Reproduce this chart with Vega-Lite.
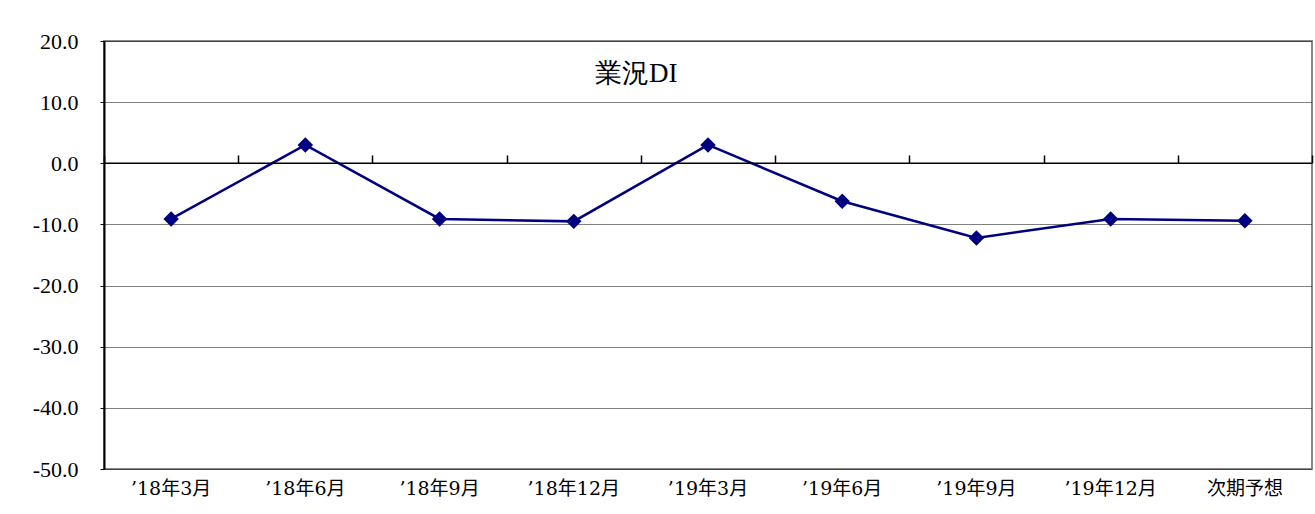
{
  "$schema": "https://vega.github.io/schema/vega-lite/v6.json",
  "width": 1208,
  "height": 428,
  "autosize": {"type": "none"},
  "padding": {"left": 104, "top": 41, "right": 3, "bottom": 45},
  "background": "white",
  "title": {
    "text": "業況DI",
    "orient": "top",
    "anchor": "start",
    "frame": "group",
    "dx": 491,
    "offset": -58,
    "font": "Liberation Serif",
    "fontSize": 27,
    "fontWeight": "normal",
    "color": "#000000"
  },
  "data": {
    "values": [
      {"period": "’18年3月", "di": -9.1},
      {"period": "’18年6月", "di": 3.0},
      {"period": "’18年9月", "di": -9.1},
      {"period": "’18年12月", "di": -9.5},
      {"period": "’19年3月", "di": 3.0},
      {"period": "’19年6月", "di": -6.2},
      {"period": "’19年9月", "di": -12.2},
      {"period": "’19年12月", "di": -9.1},
      {"period": "次期予想", "di": -9.4}
    ]
  },
  "layer": [
    {
      "mark": {"type": "line", "color": "#000080", "strokeWidth": 2.5},
      "encoding": {
        "x": {
          "field": "period",
          "type": "nominal",
          "sort": null,
          "scale": {"type": "band", "paddingInner": 0, "paddingOuter": 0},
          "axis": {
            "title": null,
            "orient": "bottom",
            "labelAngle": 0,
            "labelFont": "DejaVu Serif, Noto Sans CJK JP",
            "labelFontSize": 19,
            "labelColor": "#000000",
            "labelPadding": 10,
            "ticks": false,
            "domain": false,
            "grid": false
          }
        },
        "y": {
          "field": "di",
          "type": "quantitative",
          "scale": {"domain": [-50, 20], "nice": false, "zero": false},
          "axis": {
            "title": null,
            "values": [-50, -40, -30, -20, -10, 0, 10, 20],
            "labelExpr": "replace(format(datum.value, '.1f'), '\u2212', '-')",
            "labelFont": "serif",
            "labelFontSize": 22,
            "labelColor": "#000000",
            "labelPadding": 22,
            "tickSize": 4,
            "tickColor": "#000000",
            "domainColor": "#000000",
            "domainWidth": 2,
            "grid": true,
            "gridColor": "#000000",
            "gridDash": [1, 1],
            "gridWidth": 1
          }
        }
      }
    },
    {
      "mark": {"type": "point", "shape": "diamond", "filled": true, "size": 240, "color": "#000080", "opacity": 1},
      "encoding": {
        "x": {
          "field": "period",
          "type": "nominal",
          "sort": null,
          "axis": {
            "title": null,
            "orient": "top",
            "offset": -122,
            "labels": false,
            "domain": false,
            "grid": false,
            "ticks": true,
            "tickBand": "extent",
            "tickSize": 8,
            "tickWidth": 1.5,
            "tickColor": "#000000"
          }
        },
        "y": {"field": "di", "type": "quantitative"}
      }
    },
    {
      "data": {"values": [{"zero": 0}]},
      "mark": {"type": "rule", "color": "#000000", "strokeWidth": 1.5},
      "encoding": {
        "y": {"field": "zero", "type": "quantitative"}
      }
    }
  ],
  "resolve": {"axis": {"x": "independent"}},
  "config": {
    "view": {"stroke": "#888888", "strokeWidth": 2}
  }
}
